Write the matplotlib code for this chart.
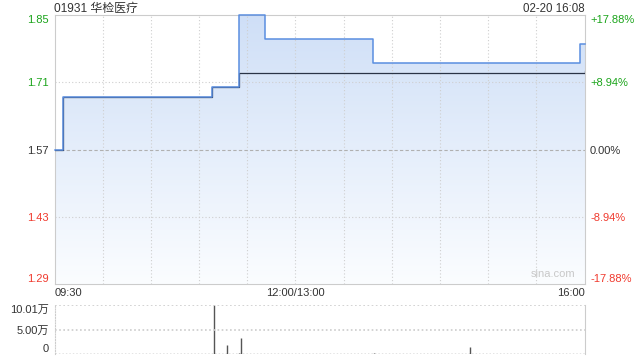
import numpy as np
import matplotlib.pyplot as plt
from matplotlib.colors import LinearSegmentedColormap

# price steps (minute index from 09:30, lunch removed)
price_t = [0, 5, 98, 115, 131, 198, 327, 330]
price_v = [1.57, 1.68, 1.70, 1.85, 1.80, 1.75, 1.79, 1.79]
avg_t = [0, 5, 98, 115, 330]
avg_v = [1.57, 1.68, 1.70, 1.73, 1.733]

# volume in 万
vol_t = [99.5, 107.6, 115, 116, 199, 259]
vol_v = [10.01, 1.84, 0.25, 3.27, 0.3, 1.36]

prev_close = 1.57
price_ticks = [1.29, 1.43, 1.57, 1.71, 1.85]
pct_labels = ['-17.88%', '-8.94%', '0.00%', '+8.94%', '+17.88%']
tick_colors = ['#f03a2e', '#f03a2e', '#333333', '#1aa41a', '#1aa41a']
vol_ticks = [0, 5.00, 10.01]
vol_labels = ['0', '5.00万', '10.01万']

FONT = ['Liberation Sans', 'Noto Sans CJK SC', 'DejaVu Sans']
plt.rcParams['font.family'] = FONT
plt.rcParams['font.size'] = 8

fig = plt.figure(figsize=(6.4, 3.6), dpi=100)
ax = fig.add_axes([54.5/640, 1-284/360, 530/640, 269/360])
axv = fig.add_axes([54.5/640, 1-354/360, 530/640, 49/360])

ymin, ymax = 1.29, 1.85
ax.set_xlim(0, 330)
ax.set_ylim(ymin, ymax)

# gradient fill under the price line
grad = np.linspace(0, 1, 256).reshape(-1, 1)
cmap = LinearSegmentedColormap.from_list('g', ['#fbfdff', '#cfdff7'])
img = ax.imshow(grad, cmap=cmap, aspect='auto', extent=[0, 330, ymin, ymax],
                origin='lower', zorder=1)
poly = ax.fill_between(price_t, price_v, ymin, step='post', color='none')
img.set_clip_path(poly.get_paths()[0], transform=ax.transData)

ax.step(price_t, price_v, where='post', color='#5a8ee0', lw=1.1, zorder=4,
        clip_on=False)
ax.step(avg_t, avg_v, where='post', color='#2a3446', lw=0.9, zorder=3)

# grid
for x in range(30, 330, 30):
    ax.axvline(x, color='#cfcfcf', lw=0.8, ls=(0, (1, 2)), zorder=2)
for y in [1.43, 1.71]:
    ax.axhline(y, color='#cfcfcf', lw=0.8, ls=(0, (1, 2)), zorder=2)
ax.axhline(prev_close, color='#b0b0b0', lw=0.8, ls=(0, (3, 2)), zorder=2)

for s in ax.spines.values():
    s.set_color('#cccccc')
ax.tick_params(length=0)
ax.set_xticks([])
ax.set_yticks(price_ticks)
ax.set_yticklabels([f'{v:.2f}' for v in price_ticks])
for lab, c in zip(ax.get_yticklabels(), tick_colors):
    lab.set_color(c)
ax.get_yticklabels()[0].set_va('bottom')
ax.get_yticklabels()[-1].set_va('top')
ax.tick_params(axis='y', pad=4)

axr = ax.twinx()
axr.set_ylim(ymin, ymax)
axr.set_yticks(price_ticks)
axr.set_yticklabels(pct_labels)
for lab, c in zip(axr.get_yticklabels(), tick_colors):
    lab.set_color(c)
axr.get_yticklabels()[0].set_va('bottom')
axr.get_yticklabels()[-1].set_va('top')
axr.tick_params(length=0, pad=4)
for s in axr.spines.values():
    s.set_visible(False)

fig.text(54.5/640, 1-11.5/360, '01931 华检医疗', ha='left', va='baseline',
         color='#333333', fontsize=8.6)
fig.text(584.5/640, 1-11.5/360, '02-20 16:08', ha='right', va='baseline',
         color='#333333', fontsize=8.3)
ax.text(0.94, 0.02, 'sina.com', transform=ax.transAxes, ha='center', va='bottom',
        color='#c8c8c8', fontsize=8)

# x labels
ax.text(0, -0.015, '09:30', transform=ax.transAxes, ha='left', va='top', color='#333333')
ax.text(150, 1.29 - 0.0084, '12:00/13:00', ha='center', va='top', color='#333333')
ax.text(1, -0.015, '16:00', transform=ax.transAxes, ha='right', va='top', color='#333333')

# volume
axv.set_xlim(0, 330)
axv.set_ylim(0, 10.01)
axv.vlines(vol_t, 0, vol_v, color='#555555', lw=1.0)
axv.axhline(10.01, color='#cccccc', lw=1.2, ls=(0, (1, 1.5)))
axv.axhline(5.00, color='#cccccc', lw=1.2, ls=(0, (1, 1.5)))
axv.axhline(0, color='#777777', lw=1.0, ls=(0, (1, 1.5)))
axv.spines['top'].set_visible(False)
axv.spines['bottom'].set_visible(False)
axv.spines['left'].set_color('#cccccc')
axv.spines['left'].set_linestyle((0, (1, 1.5)))
axv.spines['right'].set_color('#cccccc')
axv.set_xticks([])
axv.set_yticks(vol_ticks)
axv.set_yticklabels(vol_labels)
axv.tick_params(length=0, pad=4, labelcolor='#333333')
axv.get_yticklabels()[0].set_va('bottom')
axv.get_yticklabels()[-1].set_va('top')

fig.savefig('out.png', dpi=100)
